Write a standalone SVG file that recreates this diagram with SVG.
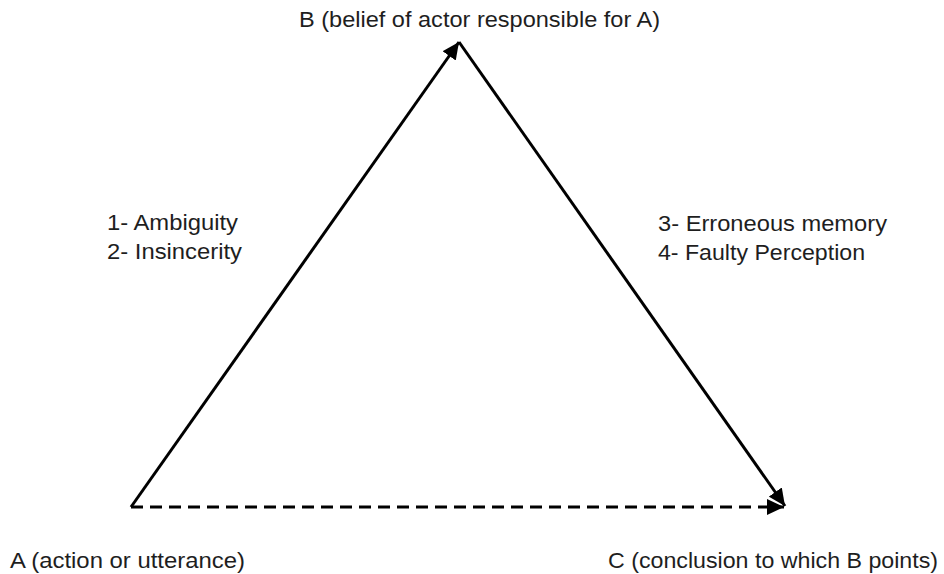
<svg xmlns="http://www.w3.org/2000/svg" width="944" height="574" viewBox="0 0 944 574">
  <style>
    .lbl { font-family: "Liberation Sans", Arial, sans-serif; font-size: 22px; fill: #1e1e1e; }
    .edge { stroke: #000; stroke-width: 3; fill: none; }
    .dashed { stroke-dasharray: 12 7; }
  </style>
  <defs>
    <marker id="arrow" markerUnits="userSpaceOnUse" markerWidth="18" markerHeight="16" refX="17" refY="8" orient="auto">
      <path d="M0,0 L17,8 L0,16 z" fill="#000"/>
    </marker>
  </defs>
  <rect width="944" height="574" fill="#fff"/>
  <g id="connectors">
    <line class="edge" x1="131" y1="507" x2="459" y2="42" marker-end="url(#arrow)"/>
    <line class="edge" x1="459" y1="42" x2="785" y2="506" marker-end="url(#arrow)"/>
    <line class="edge dashed" x1="131" y1="507" x2="784" y2="507" marker-end="url(#arrow)"/>
  </g>
  <g id="node-B">
    <text class="lbl" x="299" y="27" textLength="361" lengthAdjust="spacingAndGlyphs">B (belief of actor responsible for A)</text>
  </g>
  <g id="node-A">
    <text class="lbl" x="10" y="568" textLength="235" lengthAdjust="spacingAndGlyphs">A (action or utterance)</text>
  </g>
  <g id="node-C">
    <text class="lbl" x="608" y="568" textLength="330" lengthAdjust="spacingAndGlyphs">C (conclusion to which B points)</text>
  </g>
  <g id="label-AB">
    <text class="lbl" x="107" y="230" textLength="131" lengthAdjust="spacingAndGlyphs">1- Ambiguity</text>
    <text class="lbl" x="107" y="259" textLength="135" lengthAdjust="spacingAndGlyphs">2- Insincerity</text>
  </g>
  <g id="label-BC">
    <text class="lbl" x="658" y="231" textLength="229" lengthAdjust="spacingAndGlyphs">3- Erroneous memory</text>
    <text class="lbl" x="658" y="260" textLength="207" lengthAdjust="spacingAndGlyphs">4- Faulty Perception</text>
  </g>
</svg>
